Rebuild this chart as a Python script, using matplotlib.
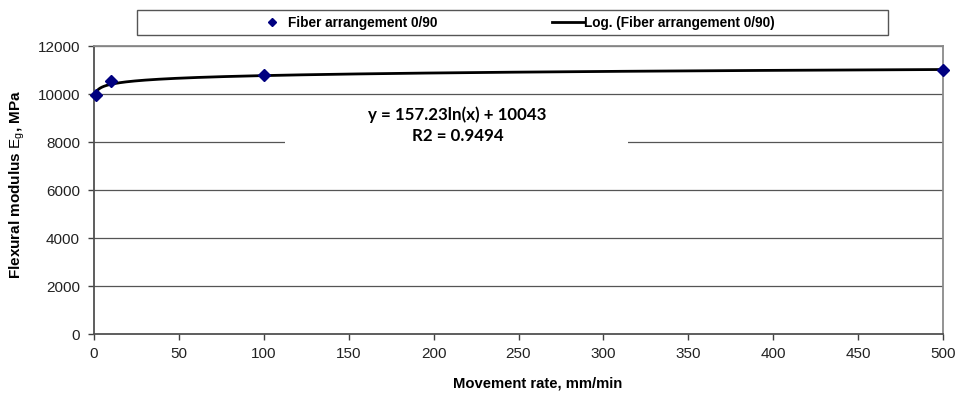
import numpy as np
import matplotlib
matplotlib.use("Agg")
import matplotlib.pyplot as plt
from matplotlib.patches import Rectangle
from matplotlib.lines import Line2D

# ---- data ----
movement_rate = [1, 10, 100, 500]            # mm/min
modulus = [9950, 10550, 10800, 10980]        # MPa
series_name = "Fiber arrangement 0/90"
trend_name = "Log. (Fiber arrangement 0/90)"
trend_slope = 157.23
trend_intercept = 10043
trend_r2 = 0.9494
x_ticks = [0, 50, 100, 150, 200, 250, 300, 350, 400, 450, 500]
y_ticks = [0, 2000, 4000, 6000, 8000, 10000, 12000]

plt.rcParams['font.family'] = ['Liberation Sans', 'DejaVu Sans']
plt.rcParams['mathtext.fontset'] = 'custom'
plt.rcParams['mathtext.rm'] = 'Liberation Sans'
plt.rcParams['mathtext.it'] = 'Liberation Sans'

W, H = 956, 399
fig = plt.figure(figsize=(W / 100, H / 100), dpi=100)
L, R, T, B = 94, 943, 46, 334
ax = fig.add_axes([L / W, 1 - B / H, (R - L) / W, (B - T) / H])

ax.set_xlim(0, 500)
ax.set_ylim(0, 12000)
ax.set_xticks(x_ticks)
ax.set_yticks(y_ticks)
ax.tick_params(axis='both', direction='out', length=4, width=1, color='#404040',
               labelsize=11, labelcolor='#222222')
ax.tick_params(axis='y', pad=6)
ax.tick_params(axis='x', pad=5)

# grid lines
for yv in y_ticks[1:]:
    ax.axhline(yv, color='#555555', lw=0.9, zorder=1)

for side in ['left', 'bottom']:
    ax.spines[side].set_color('#505050')
    ax.spines[side].set_linewidth(1.3)
for side in ['top', 'right']:
    ax.spines[side].set_color('#8a8a8a')
    ax.spines[side].set_linewidth(1.3)

# white box behind equation
ax.add_patch(Rectangle((0.225, 0.64), 0.404, 0.17, transform=ax.transAxes,
                       facecolor='white', edgecolor='none', zorder=2))

# trendline
xt = np.linspace(min(movement_rate), max(movement_rate), 2000)
yt = trend_slope * np.log(xt) + trend_intercept
ax.plot(xt, yt, color='black', lw=2.0, zorder=4, solid_capstyle='butt')

# data points
ax.plot(movement_rate, modulus, linestyle='none', marker='D', markersize=6.0,
        color='#000080', zorder=5, clip_on=False)

# equation text
eq_font = ['Lato', 'DejaVu Sans']
ax.text(0.428, 0.760, f"y = {trend_slope}ln(x) + {trend_intercept}",
        transform=ax.transAxes, ha='center', va='center', fontsize=12.2,
        fontweight='bold', family=eq_font, zorder=6)
ax.text(0.428, 0.688, f"R2 = {trend_r2}",
        transform=ax.transAxes, ha='center', va='center', fontsize=12.2,
        fontweight='bold', family=eq_font, zorder=6)

# axis labels
fig.text(537.5 / W, 1 - 384 / H, "Movement rate, mm/min", ha='center', va='center',
         fontsize=10.7, fontweight='bold')
fig.text(17 / W, 1 - 184 / H, r"Flexural modulus $\mathrm{E_g}$, MPa", rotation=90,
         ha='center', va='center', fontsize=11, fontweight='bold')

# legend box
fig.patches.append(Rectangle((137 / W, 1 - 35 / H), (888 - 137) / W, 25 / H,
                             transform=fig.transFigure, facecolor='white',
                             edgecolor='#555555', lw=1.0))
handles = [Line2D([], [], linestyle='none', marker='D', markersize=4.0, color='#000080'),
           Line2D([], [], color='black', lw=2.0)]
fig.legend(handles, [series_name, trend_name], loc='center',
           bbox_to_anchor=(515.5 / W, 1 - 22.5 / H), ncol=2, frameon=False,
           prop={'weight': 'bold', 'size': 9.8}, handlelength=2.35, handletextpad=0.0,
           columnspacing=8.45, borderpad=0)

fig.savefig("out.png", dpi=100)
